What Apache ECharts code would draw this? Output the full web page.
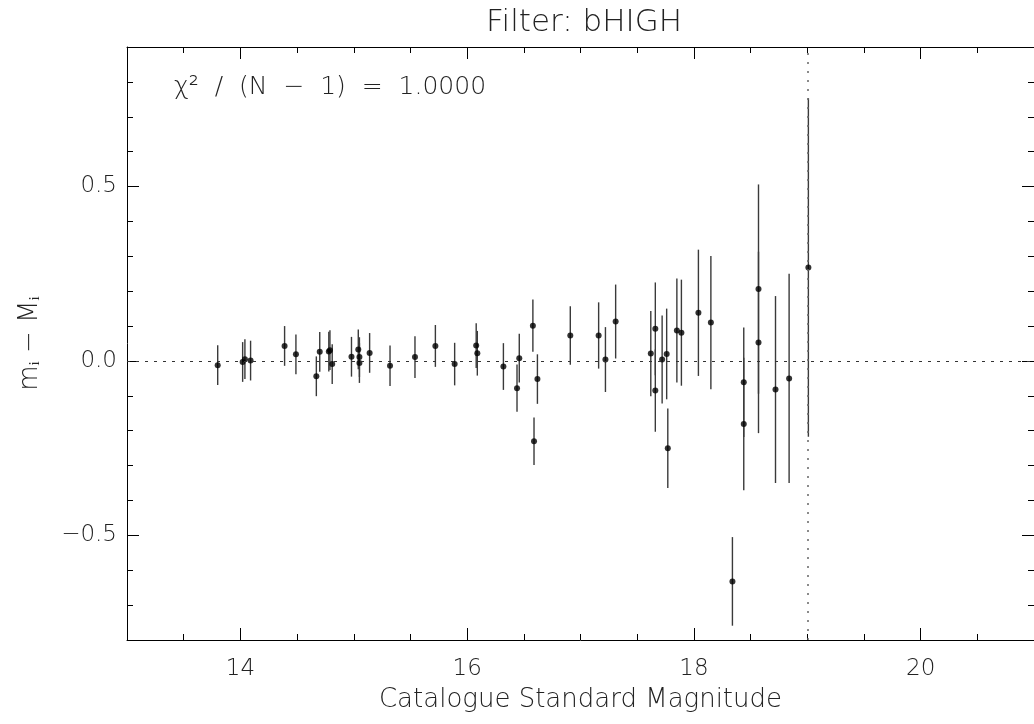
<!DOCTYPE html>
<html>
<head>
<meta charset="utf-8">
<title>Filter: bHIGH</title>
<script src="https://cdn.jsdelivr.net/npm/echarts@6/dist/echarts.min.js"></script>
<style>
	html, body { margin: 0; padding: 0; background: #fff; }
	#chart { width: 1034px; height: 724px; }
</style>
</head>
<body>
<div id="chart"></div>
<script>
// Catalogue magnitudes of the stars (x)
var magnitudes = [13.80, 14.02, 14.04, 14.09, 14.39, 14.49, 14.67, 14.70, 14.78, 14.79,
	14.81, 14.98, 15.04, 15.05, 15.05, 15.14, 15.32, 15.54, 15.72, 15.89,
	16.08, 16.09, 16.32, 16.44, 16.46, 16.58, 16.59, 16.62, 16.91, 17.16,
	17.22, 17.31, 17.62, 17.66, 17.66, 17.72, 17.76, 17.77, 17.85, 17.89,
	18.04, 18.15, 18.34, 18.44, 18.44, 18.57, 18.57, 18.72, 18.84, 19.01];
// Residuals m_i - M_i (y)
var residuals = [-0.012, -0.003, 0.005, 0.001, 0.043, 0.019, -0.044, 0.026, 0.027, 0.031,
	-0.009, 0.012, 0.033, 0.011, -0.006, 0.023, -0.014, 0.011, 0.043, -0.009,
	0.044, 0.022, -0.016, -0.078, 0.008, 0.101, -0.230, -0.052, 0.073, 0.073,
	0.004, 0.113, 0.021, 0.092, -0.085, 0.004, 0.020, -0.250, 0.087, 0.081,
	0.138, 0.110, -0.632, -0.061, -0.181, 0.206, 0.053, -0.082, -0.050, 0.268];
// One sigma errors
var errors = [0.057, 0.057, 0.057, 0.057, 0.057, 0.057, 0.057, 0.057, 0.057, 0.057,
	0.057, 0.057, 0.057, 0.057, 0.057, 0.057, 0.058, 0.060, 0.060, 0.061,
	0.064, 0.064, 0.067, 0.068, 0.070, 0.075, 0.068, 0.071, 0.084, 0.095,
	0.093, 0.106, 0.122, 0.133, 0.118, 0.126, 0.130, 0.114, 0.149, 0.152,
	0.181, 0.191, 0.127, 0.157, 0.190, 0.300, 0.260, 0.268, 0.300, 0.485];

var xTickLabels = [14, 16, 18, 20];
var yTickLabels = [-0.5, 0.0, 0.5];
var magLimit = 19;		// vertical dotted line
var chiText = 'χ²  /  (N  −  1)  =  1.0000';

var font = 'DejaVu Sans';
var ink = '#222';

// Build the series data:
var points = [];
var bars = [];
magnitudes.forEach(function (m, i) {
	points.push([m, residuals[i]]);
	bars.push([m, residuals[i], errors[i]]);
});

// Formats y labels with a real minus sign
function yLabel(v) {
	return v.toFixed(1).replace('-', '−');
}

// Builds one of the axes, major ones carry only the long ticks
function makeX(pos, major) {
	return {
		type: 'value', position: pos, min: 13, max: 21, interval: 0.5,
		splitLine: { show: false },
		axisLine: { show: !major, onZero: false, lineStyle: { color: '#000', width: 1 } },
		axisTick: major
			? { inside: true, length: 12, customValues: xTickLabels, lineStyle: { color: '#000' } }
			: { inside: true, length: 6, lineStyle: { color: '#000' } },
		axisLabel: { show: false }
	};
}
function makeY(pos, major) {
	return {
		type: 'value', position: pos, min: -0.8, max: 0.9, interval: 0.1,
		splitLine: { show: false },
		axisLine: { show: !major && pos == 'left', onZero: false, lineStyle: { color: '#000', width: 1 } },
		axisTick: major
			? { inside: true, length: 12, customValues: yTickLabels, lineStyle: { color: '#000' } }
			: { inside: true, length: 6, lineStyle: { color: '#000' } },
		axisLabel: { show: false }
	};
}

var xAxes = [makeX('bottom', false), makeX('bottom', true), makeX('top', false), makeX('top', true)];
var yAxes = [makeY('left', false), makeY('left', true), makeY('right', false), makeY('right', true)];

// Labels and names live on the first axis of each direction
xAxes[0].axisLabel = {
	show: true, customValues: xTickLabels, margin: 18,
	color: ink, fontFamily: font, fontSize: 23, fontWeight: 200
};
xAxes[0].name = 'Catalogue Standard Magnitude';
xAxes[0].nameLocation = 'middle';
xAxes[0].nameGap = 47;
xAxes[0].nameTextStyle = { color: ink, fontFamily: font, fontSize: 26, fontWeight: 200 };

yAxes[0].axisLabel = {
	show: true, customValues: yTickLabels, margin: 10, formatter: yLabel,
	color: ink, fontFamily: font, fontSize: 23, fontWeight: 200
};
yAxes[0].name = 'mᵢ − Mᵢ';
yAxes[0].nameLocation = 'middle';
yAxes[0].nameRotate = 90;
yAxes[0].nameGap = 84;
yAxes[0].nameTextStyle = { color: ink, fontFamily: font, fontSize: 26, fontWeight: 200 };

var chart = echarts.init(document.getElementById('chart'));

chart.setOption({
	animation: false,
	backgroundColor: '#fff',
	title: {
		text: 'Filter: bHIGH',
		left: 579, top: 2, textAlign: 'center',
		textStyle: { color: ink, fontFamily: font, fontSize: 31, fontWeight: 200 }
	},
	grid: { left: 127, right: 0, top: 47, bottom: 84 },
	xAxis: xAxes,
	yAxis: yAxes,
	graphic: [{
		type: 'text', left: 174, top: 75,
		style: { text: chiText, fill: ink, font: '200 25px "DejaVu Sans"' }
	}],
	series: [
		{
			// Error bars
			type: 'custom',
			data: bars,
			clip: true,
			renderItem: function (params, api) {
				var x = api.value(0), y = api.value(1), e = api.value(2);
				var top = api.coord([x, y + e]);
				var bot = api.coord([x, y - e]);
				return {
					type: 'line',
					shape: { x1: top[0], y1: top[1], x2: bot[0], y2: bot[1] },
					style: { stroke: '#3a3a3a', lineWidth: 1.4 }
				};
			},
			z: 2
		},
		{
			type: 'scatter',
			data: points,
			symbol: 'circle',
			symbolSize: 6,
			itemStyle: { color: '#000' },
			z: 3,
			markLine: {
				silent: true,
				symbol: 'none',
				label: { show: false },
				data: [
					{ yAxis: 0, lineStyle: { color: '#333', width: 1, type: [3, 6] } },
					{ xAxis: magLimit, lineStyle: { color: '#666', width: 1.5, type: [2, 7] } }
				]
			}
		}
	]
});
</script>
</body>
</html>
